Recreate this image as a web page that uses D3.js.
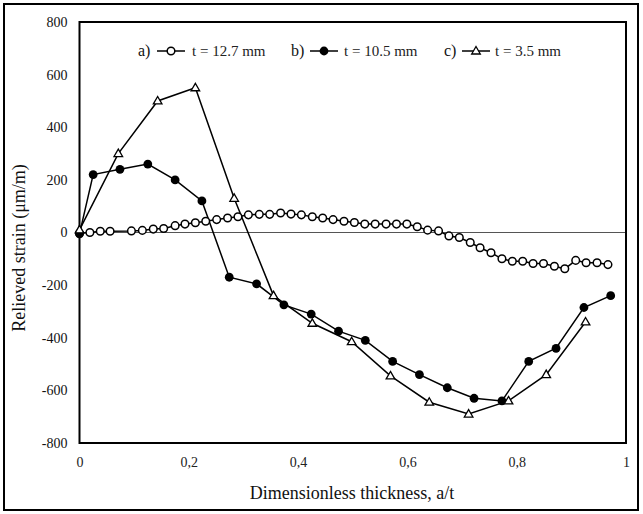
<!DOCTYPE html>
<html><head><meta charset="utf-8">
<script src="https://cdn.jsdelivr.net/npm/d3@7"></script>
<style>body{margin:0;background:#fff}svg{display:block}</style>
</head><body>
<script>
const xTicks = [0, 0.2, 0.4, 0.6, 0.8, 1];
const xTickLabels = ["0", "0,2", "0,4", "0,6", "0,8", "1"];
const yTicks = [-800, -600, -400, -200, 0, 200, 400, 600, 800];
const yTickLabels = ["-800", "-600", "-400", "-200", "0", "200", "400", "600", "800"];

const seriesNames = ["t = 12.7 mm", "t = 10.5 mm", "t = 3.5 mm"];
const seriesTags = ["a)", "b)", "c)"];

const aX = [0, 0.019, 0.038, 0.056, 0.095, 0.115, 0.135, 0.154, 0.175, 0.193, 0.212, 0.231, 0.251, 0.271, 0.290, 0.309, 0.329, 0.348, 0.368, 0.387, 0.406, 0.426, 0.445, 0.464, 0.484, 0.503, 0.522, 0.541, 0.561, 0.580, 0.599, 0.618, 0.637, 0.657, 0.676, 0.695, 0.715, 0.733, 0.753, 0.773, 0.792, 0.811, 0.830, 0.849, 0.869, 0.888, 0.908, 0.927, 0.947, 0.967];
const aY = [-3, 0, 5, 5, 6, 8, 13, 15, 26, 32, 37, 43, 49, 55, 60, 67, 69, 69, 74, 70, 67, 60, 55, 49, 43, 38, 32, 32, 32, 32, 32, 22, 9, 6, -13, -19, -38, -58, -77, -100, -109, -109, -118, -118, -128, -138, -106, -115, -115, -122];

const bX = [0, 0.025, 0.074, 0.125, 0.175, 0.224, 0.274, 0.324, 0.374, 0.424, 0.474, 0.523, 0.573, 0.622, 0.673, 0.722, 0.773, 0.822, 0.872, 0.923, 0.972];
const bY = [-5, 220, 240, 260, 200, 120, -170, -195, -275, -310, -375, -410, -490, -540, -590, -630, -640, -490, -440, -285, -240];

const cX = [0, 0.071, 0.143, 0.212, 0.283, 0.355, 0.426, 0.498, 0.569, 0.640, 0.712, 0.785, 0.854, 0.926];
const cY = [10, 300, 500, 550, 130, -240, -345, -415, -545, -645, -690, -640, -540, -340];

const W = 643, H = 514;
const svg = d3.select("body").append("svg").attr("width", W).attr("height", H);
const font = "'Liberation Serif', 'Times New Roman', serif";

svg.append("rect").attr("x", 4).attr("y", 4).attr("width", 634).attr("height", 506)
  .attr("fill", "none").attr("stroke", "#000").attr("stroke-width", 2);

const x = d3.scaleLinear().domain([0, 1]).range([79.5, 626]);
const y = d3.scaleLinear().domain([-800, 800]).range([443, 22]);

// zero line
svg.append("line").attr("x1", x(0)).attr("x2", x(1)).attr("y1", y(0)).attr("y2", y(0))
  .attr("stroke", "#555").attr("stroke-width", 1);

// axes (labels only)
const gx = svg.append("g").attr("transform", `translate(0,${y(-800)})`)
  .call(d3.axisBottom(x).tickValues(xTicks).tickSize(0).tickPadding(14)
    .tickFormat((d, i) => xTickLabels[i]));
gx.select(".domain").remove();
gx.selectAll("text").attr("font-family", font).attr("font-size", 14).attr("fill", "#222");

const gy = svg.append("g").attr("transform", `translate(${x(0)},0)`)
  .call(d3.axisLeft(y).tickValues(yTicks).tickSize(0).tickPadding(12)
    .tickFormat((d, i) => yTickLabels[i]));
gy.select(".domain").remove();
gy.selectAll("text").attr("font-family", font).attr("font-size", 14).attr("fill", "#111");

// frame
svg.append("rect").attr("x", x(0)).attr("y", y(800)).attr("width", x(1) - x(0)).attr("height", y(-800) - y(800))
  .attr("fill", "none").attr("stroke", "#000").attr("stroke-width", 2);

// titles
svg.append("text").attr("x", 352).attr("y", 499).attr("text-anchor", "middle")
  .attr("font-family", font).attr("font-size", 18).attr("fill", "#111")
  .text("Dimensionless thickness, a/t");
svg.append("text").attr("transform", "translate(25,248) rotate(-90)").attr("text-anchor", "middle")
  .attr("font-family", font).attr("font-size", 18).attr("fill", "#111")
  .text("Relieved strain (μm/m)");

const line = d3.line().x(d => x(d[0])).y(d => y(d[1]));
const A = aX.map((v, i) => [v, aY[i]]);
const B = bX.map((v, i) => [v, bY[i]]);
const C = cX.map((v, i) => [v, cY[i]]);

[A, B, C].forEach(s => svg.append("path").datum(s).attr("d", line)
  .attr("fill", "none").attr("stroke", "#000").attr("stroke-width", 1.5));

const tri = d3.symbol().type(d3.symbolTriangle).size(32);

function drawMarker(g, kind, cx, cy) {
  if (kind === 0) g.append("circle").attr("cx", cx).attr("cy", cy).attr("r", 3.8)
    .attr("fill", "#fff").attr("stroke", "#000").attr("stroke-width", 1.5);
  else if (kind === 1) g.append("circle").attr("cx", cx).attr("cy", cy).attr("r", 4.4)
    .attr("fill", "#000");
  else g.append("path").attr("d", tri).attr("transform", `translate(${cx},${cy + 0.5})`)
    .attr("fill", "#fff").attr("stroke", "#000").attr("stroke-width", 1.3);
}

const mg = svg.append("g");
A.forEach(d => drawMarker(mg, 0, x(d[0]), y(d[1])));
B.forEach(d => drawMarker(mg, 1, x(d[0]), y(d[1])));
C.forEach(d => drawMarker(mg, 2, x(d[0]), y(d[1])));

// legend
const legY = 51;
const legPos = [[138, 157, 192], [291, 310, 344], [444, 462, 495]];
legPos.forEach((p, i) => {
  svg.append("text").attr("x", p[0]).attr("y", legY + 5).attr("font-family", font)
    .attr("font-size", 16).attr("fill", "#111").text(seriesTags[i]);
  svg.append("line").attr("x1", p[1]).attr("x2", p[1] + 28).attr("y1", legY).attr("y2", legY)
    .attr("stroke", "#000").attr("stroke-width", 1.5);
  drawMarker(svg, i, p[1] + 14, legY);
  svg.append("text").attr("x", p[2]).attr("y", legY + 5).attr("font-family", font)
    .attr("font-size", 15).attr("fill", "#222").text(seriesNames[i]);
});
</script>
</body></html>
